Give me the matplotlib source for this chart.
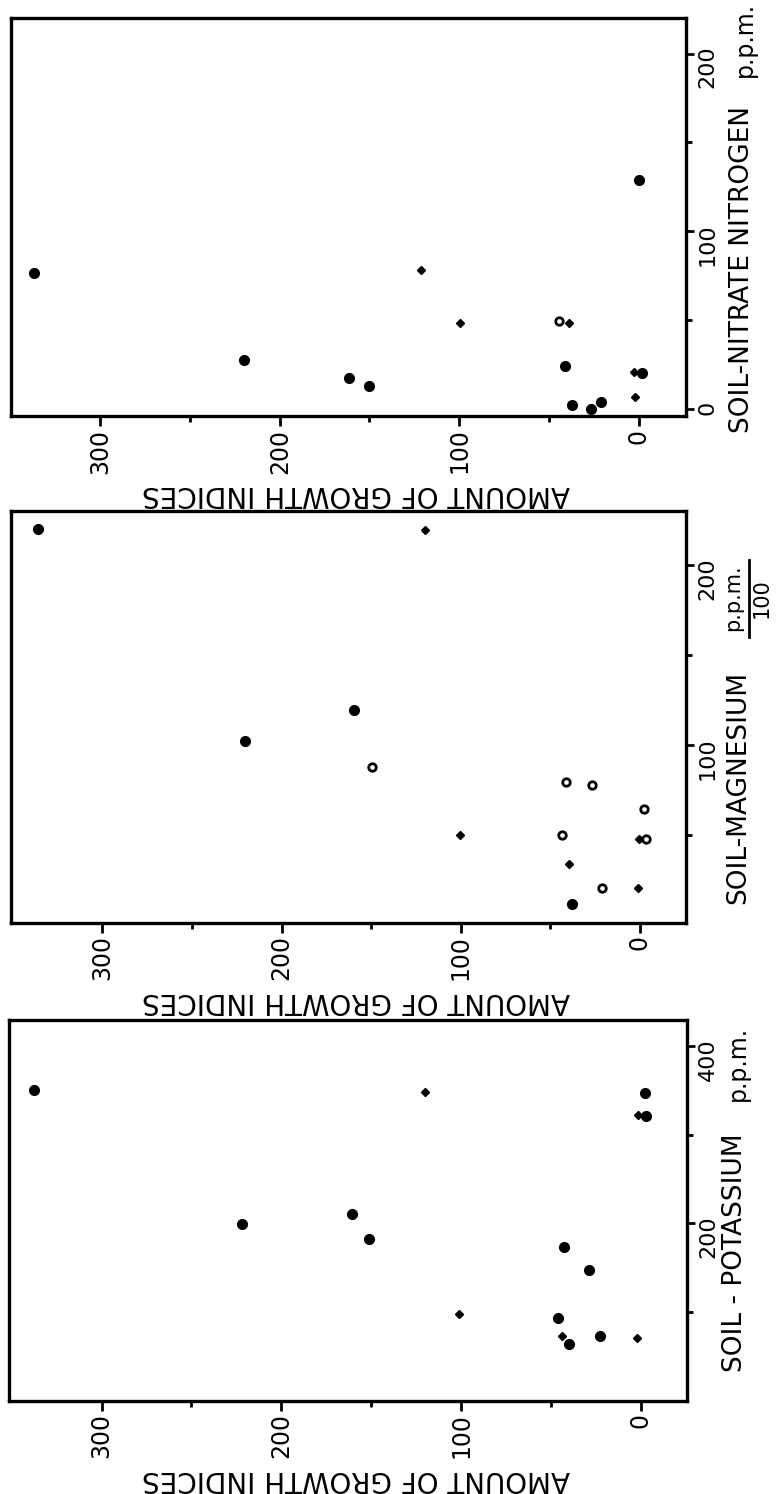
import matplotlib
matplotlib.use('Agg')
import matplotlib.pyplot as plt
from matplotlib.lines import Line2D

# ---------------- data (growth index, soil value) ----------------
# Soil nitrate nitrogen panel
n_filled_growth = [337, 0, 220, 161.5, 150.4, 41, -1.7, 37, 26.7, 21.1]
n_filled_soil   = [76.6, 129, 27.5, 17.4, 13.1, 24.2, 20.4, 2.3, -0.2, 3.8]
n_small_growth  = [121.4, 99.4, 39, 2.4, 1.8]
n_small_soil    = [78.1, 48.6, 48.2, 21.1, 6.8]
n_open_growth   = [44.2]
n_open_soil     = [49.5]

# Soil magnesium panel (p.p.m./100)
mg_filled_growth = [335.8, 159.6, 220.6, 37.8]
mg_filled_soil   = [220, 119.6, 102.2, 11.9]
mg_small_growth  = [120, 100.6, 0.7, 39.5, 0.9]
mg_small_soil    = [219.7, 50.1, 47.9, 33.7, 20.8]
mg_open_growth   = [149.7, 41, 26.6, -2.2, 43.4, -3.4, 21.2]
mg_open_soil     = [87.5, 79.5, 77.5, 64.6, 49.9, 47.5, 20.7]

# Soil potassium panel
k_filled_growth = [337.7, -2, -3, 222, 161, 151, 42.7, 29, 46.3, 40.2, 22.9]
k_filled_soil   = [350, 346.6, 321, 199, 210, 182, 172.5, 147.4, 92.9, 62.8, 72.2]
k_small_growth  = [120, 1.5, 101, 44, 2.2]
k_small_soil    = [348.5, 322.5, 97.7, 72.2, 70.3]

growth_major = [0, 100, 200, 300]
growth_minor = [50, 150, 250]
growth_label = "AMOUNT OF GROWTH INDICES"

# ---------------- figure ----------------
W, H = 778, 1494
fig = plt.figure(figsize=(W / 100, H / 100), dpi=100)
plt.rcParams['font.family'] = ['DejaVu Sans']


def px_axes(l, t, r, b):
    return fig.add_axes([l / W, 1 - b / H, (r - l) / W, (b - t) / H])


def style(ax, xlim, ylim, ymaj, ymin):
    ax.set_xlim(*xlim)
    ax.set_ylim(*ylim)
    for s in ax.spines.values():
        s.set_linewidth(2.4)
        s.set_color('black')
    ax.set_xticks(growth_major)
    ax.set_xticks(growth_minor, minor=True)
    ax.set_yticks(ymaj)
    ax.set_yticks(ymin, minor=True)
    ax.tick_params(axis='x', which='major', direction='out', length=7, width=2,
                   bottom=True, top=False, labelbottom=True, labelrotation=90,
                   labelsize=17, pad=2)
    ax.tick_params(axis='x', which='minor', direction='out', length=4, width=2,
                   bottom=True, top=False)
    ax.tick_params(axis='y', which='major', direction='out', length=6, width=2,
                   left=False, right=True, labelleft=False, labelright=True,
                   labelrotation=90, labelsize=16, pad=2)
    ax.tick_params(axis='y', which='minor', direction='out', length=4, width=2,
                   left=False, right=True)
    ax.set_facecolor('white')


def plot_sets(ax, filled, small, opened):
    if filled:
        ax.plot(filled[0], filled[1], 'o', ms=7, color='black', mec='black', clip_on=False)
    if small:
        ax.plot(small[0], small[1], 'D', ms=3.8, color='black', mec='black', clip_on=False)
    if opened:
        ax.plot(opened[0], opened[1], 'o', ms=5.4, mfc='white', mec='black', mew=2.0, clip_on=False)


def ftext(xp, yp, s, **kw):
    fig.text(xp / W, 1 - yp / H, s, **kw)


# Top panel: nitrate
ax1 = px_axes(11, 18, 686, 416)
style(ax1, (349.8, -26.4), (-3.9, 220), [0, 100, 200], [50, 150])
plot_sets(ax1, (n_filled_growth, n_filled_soil), (n_small_growth, n_small_soil),
          (n_open_growth, n_open_soil))

# Middle panel: magnesium
ax2 = px_axes(11, 511, 686, 923)
style(ax2, (351, -25.7), (1.1, 230), [100, 200], [50, 150])
plot_sets(ax2, (mg_filled_growth, mg_filled_soil), (mg_small_growth, mg_small_soil),
          (mg_open_growth, mg_open_soil))

# Bottom panel: potassium
ax3 = px_axes(9, 1020, 687, 1401)
style(ax3, (351.5, -25.6), (-1.1, 429.4), [200, 400], [100, 300])
plot_sets(ax3, (k_filled_growth, k_filled_soil), (k_small_growth, k_small_soil), None)

# Growth axis labels (upside down)
for yb in (416, 923, 1401):
    ftext(356, yb + 78, growth_label, rotation=180, ha='center', va='center',
          fontsize=20)

# Soil axis labels
ftext(742, 433, "SOIL-NITRATE NITROGEN", rotation=90, ha='center', va='bottom', fontsize=19)
ftext(745, 2, "p.p.m.", rotation=90, ha='center', va='top', fontsize=17)

ftext(738, 904, "SOIL-MAGNESIUM", rotation=90, ha='center', va='bottom', fontsize=19)
ftext(733, 598, "p.p.m.", rotation=90, ha='center', va='center', fontsize=15)
ftext(762, 598, "100", rotation=90, ha='center', va='center', fontsize=15)
fig.add_artist(Line2D([748.5 / W, 748.5 / W], [1 - 560 / H, 1 - 637 / H],
                      transform=fig.transFigure, color='black', lw=2))

ftext(735, 1372, "SOIL - POTASSIUM", rotation=90, ha='center', va='bottom', fontsize=19)
ftext(738, 1026, "p.p.m.", rotation=90, ha='center', va='top', fontsize=17)

fig.savefig('out.png', dpi=100, facecolor='white')
